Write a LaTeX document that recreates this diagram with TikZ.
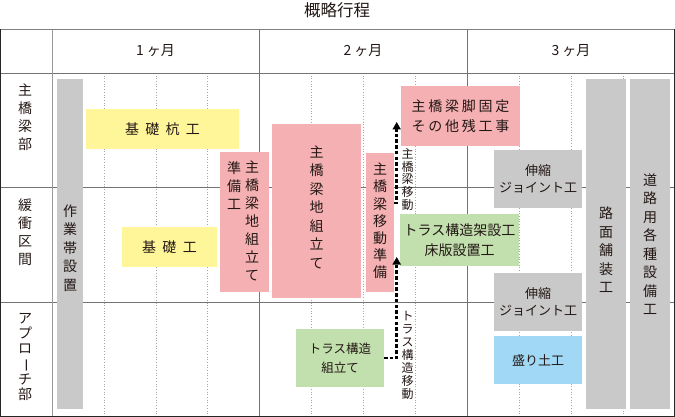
\documentclass[tikz,border=0pt]{standalone}
\usepackage{fontspec}
\setmainfont{Noto Sans CJK JP}
\newfontfamily\widejp[LetterSpace=45]{Noto Sans CJK JP}
\usetikzlibrary{arrows.meta, positioning}

\definecolor{barpink}{HTML}{F4B0B2}
\definecolor{baryellow}{HTML}{FFF599}
\definecolor{bargreen}{HTML}{C2DFAE}
\definecolor{bargray}{HTML}{C9C9C9}
\definecolor{barblue}{HTML}{A0D8F5}
\definecolor{inkjp}{HTML}{231815}

\begin{document}
\begin{tikzpicture}[
    x=1pt, y=-1pt,
    bar/.style={inner sep=0pt, outer sep=0pt, text=inkjp, align=center,
                font=\fontsize{13}{17}\selectfont},
    vtext/.style={inner sep=0pt, text=inkjp, align=center,
                  font=\fontsize{14}{18}\selectfont},
    vsmall/.style={inner sep=0pt, text=inkjp, align=center,
                   font=\fontsize{12}{12.8}\selectfont},
    head/.style={inner sep=0pt, text=inkjp, font=\fontsize{14}{17}\selectfont},
    gridline/.style={draw=black!55, line width=0.8pt},
    quarter/.style={draw=black!35, dotted, line width=0.7pt},
    frame/.style={draw=black!85, line width=1.2pt},
    mover/.style={draw=black, line width=2.6pt, dash pattern=on 3.5pt off 2.2pt,
                  -{Triangle[length=7.5pt, width=8pt]}}
  ]

  \useasboundingbox (0,0) rectangle (675,417);

  % Title and months
  \node[head, font=\fontsize{16.5}{18}\selectfont] (title) at (337,10) {概略行程};
  \node[head] (month1) at (155.5,51) {1 ヶ月};
  \node[head] (month2) at (363,51) {2 ヶ月};
  \node[head] (month3) at (571,51) {3 ヶ月};

  % Table grid
  \draw[quarter] (104,73) -- (104,416) (156,73) -- (156,416) (207,73) -- (207,416)
                 (311,73) -- (311,416) (363,73) -- (363,416) (415,73) -- (415,416)
                 (519,73) -- (519,416) (571,73) -- (571,416) (623,73) -- (623,416);
  \draw[gridline] (0,73) -- (675,73) (0,187.5) -- (675,187.5) (0,302) -- (675,302);
  \draw[gridline, draw=black!40] (52,29.5) -- (52,416);
  \draw[gridline] (259,29.5) -- (259,416) (467,29.5) -- (467,416);
  \draw[gridline, draw=black!50] (0,29.5) -- (675,29.5);
  \draw[frame] (0.6,29.5) -- (0.6,416.4) -- (674.4,416.4) -- (674.4,29.5);

  % Row labels
  \node[vtext, anchor=north] (rowmain) at (25,84) {主\\橋\\梁\\部};
  \node[vtext, anchor=north] (rowbuffer) at (25,199) {緩\\衝\\区\\間};
  \node[vtext, font=\fontsize{14}{15.2}\selectfont, anchor=north] (rowapproach) at (25,313)
    {ア\\プ\\ロ\\\rotatebox[origin=c]{-90}{ー}\\チ\\部};

  % Work bars
  \node[bar, fill=bargray, minimum width=26pt, minimum height=330pt] (setup) at (70,244) {};
  \node[vtext, font=\fontsize{14}{18.5}\selectfont] (setuptext) at (70,248) {作\\業\\帯\\設\\置};

  \node[bar, fill=baryellow, minimum width=153pt, minimum height=40pt, font=\fontsize{14}{17}\widejp]
    (pile) at (162.5,129) {基礎杭工};
  \node[bar, fill=baryellow, minimum width=95pt, minimum height=40pt, font=\fontsize{14}{17}\widejp]
    (found) at (169.5,247) {基礎工};

  \node[bar, fill=barpink, minimum width=49pt, minimum height=140pt] (prep) at (244.5,222) {};
  \node[vtext, anchor=north] (preptextr) at (252,161) {主\\橋\\梁\\地\\組\\立\\て};
  \node[vtext, anchor=north] (preptextl) at (234,161) {準\\備\\工};

  \node[bar, fill=barpink, minimum width=89pt, minimum height=174pt] (assy) at (316.5,211) {};
  \node[vtext, font=\fontsize{14}{18.5}\selectfont] (assytext) at (316.5,207) {主\\橋\\梁\\地\\組\\立\\て};

  \node[bar, fill=barpink, minimum width=28pt, minimum height=139pt] (move) at (380,222.5) {};
  \node[vtext, font=\fontsize{14}{17.2}\selectfont] (movetext) at (380,221) {主\\橋\\梁\\移\\動\\準\\備};

  \node[bar, fill=barpink, minimum width=119pt, minimum height=60pt,
        font=\fontsize{14}{20}\widejp\addfontfeature{LetterSpace=20}]
    (pier) at (460.5,116) {主橋梁脚固定\\その他残工事};
  \node[bar, fill=bargreen, minimum width=119pt, minimum height=52pt, font=\fontsize{14}{20}\selectfont]
    (truss) at (459.5,240) {トラス構造架設工\\床版設置工};
  \node[bar, fill=bargreen, minimum width=88pt, minimum height=58pt, font=\fontsize{12.5}{19}\selectfont]
    (trussasm) at (340,358) {トラス構造\\組立て};

  \node[bar, fill=bargray, minimum width=88pt, minimum height=58pt] (joint1) at (538,179) {伸縮\\ジョイント工};
  \node[bar, fill=bargray, minimum width=88pt, minimum height=58pt] (joint2) at (538,302) {伸縮\\ジョイント工};
  \node[bar, fill=barblue, minimum width=88pt, minimum height=48pt] (fill) at (538,360) {盛り土工};

  \node[bar, fill=bargray, minimum width=40pt, minimum height=330pt] (pave) at (606,244) {};
  \node[vtext, font=\fontsize{14}{18.5}\selectfont] (pavetext) at (606,250) {路\\面\\舗\\装\\工};
  \node[bar, fill=bargray, minimum width=40pt, minimum height=330pt] (equip) at (650,244) {};
  \node[vtext, font=\fontsize{14}{18.5}\selectfont] (equiptext) at (650,244) {道\\路\\用\\各\\種\\設\\備\\工};

  % Moves
  \coordinate (moveturn) at (396.7,203);
  \coordinate (movetip) at (396.7,122);
  \draw[mover] (move.east |- moveturn) -- (moveturn) -- (movetip);
  \node[vsmall, anchor=north] (movelabel) at (407.5,148) {主\\橋\\梁\\移\\動};

  \coordinate (trusstip) at (396.7,257);
  \draw[mover] (trussasm.east) -| (trusstip);
  \node[vsmall, font=\fontsize{12}{13}\selectfont, anchor=north] (trusslabel) at (407.5,311)
    {ト\\ラ\\ス\\構\\造\\移\\動};

\end{tikzpicture}
\end{document}
